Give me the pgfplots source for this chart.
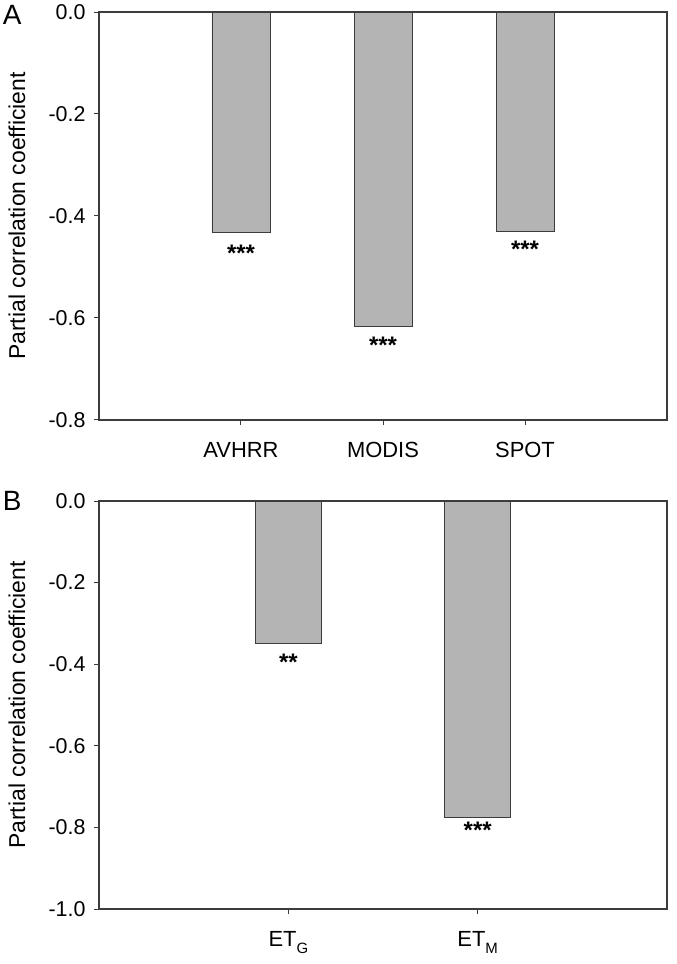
\documentclass[border=0pt]{standalone}
\usepackage{fontspec}
\setmainfont{Liberation Sans}
\usepackage{pgfplots}
\pgfplotsset{compat=1.18}
\definecolor{bargrey}{HTML}{B4B4B4}
\definecolor{edgegrey}{HTML}{3C3C3C}

\newcommand{\sub}[1]{\raisebox{-7bp}{\fontsize{15}{18}\selectfont #1}}

\pgfplotsset{
  panel/.style={
    scale only axis,
    width=568bp, height=408bp,
    axis line style={edgegrey, line width=1.3bp},
    tick style={edgegrey, line width=1bp},
    major tick length=5bp,
    tick align=outside,
    tick pos=left,
    yticklabel style={font=\fontsize{21.5}{25}\selectfont, xshift=-5bp},
    xticklabel style={font=\fontsize{22}{26}\selectfont, yshift=-14bp},
    ylabel={Partial correlation coefficient},
    ylabel style={font=\fontsize{23}{27}\selectfont,
      at={(axis description cs:-0.1444,0.5)}, anchor=center},
    clip=false,
    ybar,
  },
}
\tikzset{stars/.style={font=\fontsize{24}{28}\selectfont\bfseries}}

\begin{document}
\begin{tikzpicture}
\path[use as bounding box] (-99bp,12bp) rectangle (578bp,-952bp);

% ---------------- panel A ----------------
\begin{axis}[
  panel,
  name=A,
  at={(0,0)}, anchor=north west,
  xmin=0, xmax=4,
  ymin=-0.8, ymax=0,
  xtick={1,2,3},
  xticklabels={AVHRR,MODIS,SPOT},
  ytick={-0.8,-0.6,-0.4,-0.2,0},
  yticklabels={-0.8,-0.6,-0.4,-0.2,0.0},
  bar width=58bp,
]
\addplot[fill=bargrey, draw=edgegrey, line width=0.8bp]
  coordinates {(1,-0.433) (2,-0.616) (3,-0.431)};
\node[stars] at (axis cs:1,-0.474) {***};
\node[stars] at (axis cs:2,-0.654) {***};
\node[stars] at (axis cs:3,-0.465) {***};
\node[font=\fontsize{28}{32}\selectfont] at (axis description cs:-0.153,0.993) {A};
\end{axis}

% ---------------- panel B ----------------
\begin{axis}[
  panel,
  at={(0,-489bp)}, anchor=north west,
  xmin=0, xmax=3,
  ymin=-1, ymax=0,
  xtick={1,2},
  xticklabels={ET\sub{G},ET\sub{M}},
  ytick={-1,-0.8,-0.6,-0.4,-0.2,0},
  yticklabels={-1.0,-0.8,-0.6,-0.4,-0.2,0.0},
  bar width=66bp,
]
\addplot[fill=bargrey, draw=edgegrey, line width=0.8bp]
  coordinates {(1,-0.350) (2,-0.775)};
\node[stars] at (axis cs:1,-0.396) {**};
\node[stars] at (axis cs:2,-0.806) {***};
\node[font=\fontsize{28}{32}\selectfont] at (axis description cs:-0.153,1.0) {B};
\end{axis}
\end{tikzpicture}
\end{document}
